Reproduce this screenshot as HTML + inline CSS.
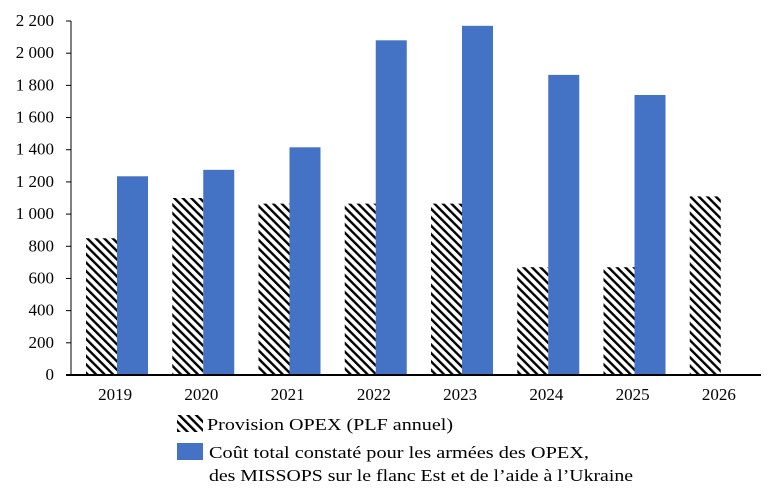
<!DOCTYPE html>
<html><head><meta charset="utf-8"><style>
body{margin:0;background:#fff;}
svg text{font-family:"Liberation Serif",serif;fill:#000;}
</style></head><body>
<svg id="chart" width="775" height="499" xmlns="http://www.w3.org/2000/svg">
<defs>
<pattern id="hatch" patternUnits="userSpaceOnUse" width="6" height="6" patternTransform="rotate(-45)">
<rect width="6" height="6" fill="#fff"/>
<rect x="0" y="0" width="2.4" height="6" fill="#000"/>
</pattern>
</defs>
<g id="bars"></g>
<g id="axes"></g>
<g>
<rect x="177" y="415" width="26" height="17" fill="url(#hatch)"/>
<text x="207" y="430" font-size="17" textLength="246" lengthAdjust="spacingAndGlyphs">Provision OPEX (PLF annuel)</text>
<rect x="177" y="443" width="26" height="17" fill="#4472C4"/>
<text x="209" y="458" font-size="17" textLength="380" lengthAdjust="spacingAndGlyphs">Coût total constaté pour les armées des OPEX,</text>
<text x="209" y="481" font-size="17" textLength="424" lengthAdjust="spacingAndGlyphs">des MISSOPS sur le flanc Est et de l’aide à l’Ukraine</text>
</g>
</svg>
<script>
const categories=["2019","2020","2021","2022","2023","2024","2025","2026"];
const provision=[850,1100,1065,1065,1065,670,670,1110];
const coutTotal=[1235,1275,1415,2080,2170,1865,1740,null];
const yTicks=[0,200,400,600,800,1000,1200,1400,1600,1800,2000,2200];
const tickLabels=["0","200","400","600","800","1 000","1 200","1 400","1 600","1 800","2 000","2 200"];
const NS="http://www.w3.org/2000/svg";
const x0=71,x1=761,yBase=375,yTop=21,yMax=2200;
const catW=(x1-x0)/categories.length;
function y(v){return yBase-(v/yMax)*(yBase-yTop);}
function xc(i){return x0+i*catW;}
function mk(tag,attrs,parent){const e=document.createElementNS(NS,tag);for(const k in attrs)e.setAttribute(k,attrs[k]);parent.appendChild(e);return e;}
const bars=document.getElementById('bars'),axes=document.getElementById('axes');
categories.forEach((c,i)=>{
  const bx=xc(i)+15;
  if(provision[i]!=null){
    const r=mk('rect',{x:bx,y:y(provision[i]),width:31,height:yBase-y(provision[i]),fill:'url(#hatch)'},bars);
    
    
  }
  if(coutTotal[i]!=null){
    const r=mk('rect',{x:bx+31,y:y(coutTotal[i]),width:31,height:yBase-y(coutTotal[i]),fill:'#4472C4'},bars);
    
    
  }
  const t=mk('text',{x:xc(i)+catW/2+1,y:400,'font-size':17,'text-anchor':'middle'},axes);
  t.textContent=c;
  
  
});
yTicks.forEach((v,i)=>{
  const l=mk('line',{x1:x0-5,x2:x0,y1:y(v),y2:y(v),stroke:'#000','stroke-width':1},axes);
  
  
  const t=mk('text',{x:x0-17,y:y(v)+5,'font-size':17,'text-anchor':'end'},axes);
  t.textContent=tickLabels[i];
  
  
});
const ya=mk('line',{x1:x0,x2:x0,y1:yTop,y2:yBase,stroke:'#000','stroke-width':1},axes);


const xa=mk('line',{x1:x0-5,x2:x1,y1:yBase,y2:yBase,stroke:'#000','stroke-width':2},axes);


</script>
</body></html>
